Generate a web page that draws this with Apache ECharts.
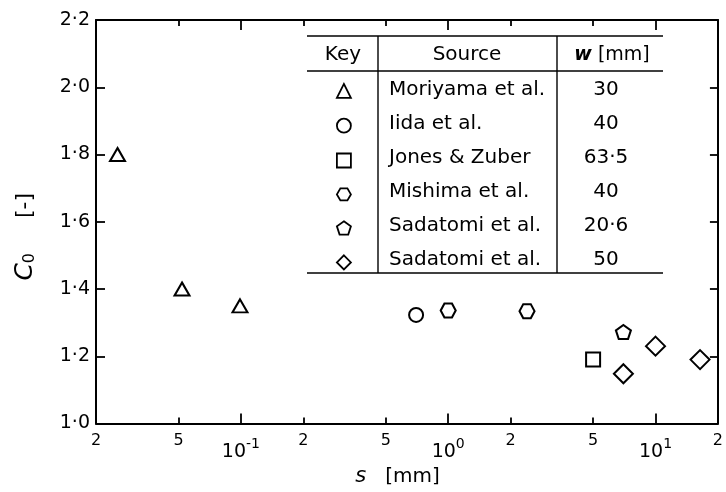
<!DOCTYPE html>
<html><head><meta charset="utf-8">
<script src="https://cdn.jsdelivr.net/npm/echarts@6/dist/echarts.min.js"></script>
<style>html,body{margin:0;padding:0;background:#fff}#c{width:726px;height:492px}</style>
</head><body><div id="c"></div>
<script>
// ---- data ----
const sources = ['Moriyama et al.', 'Iida et al.', 'Jones & Zuber', 'Mishima et al.', 'Sadatomi et al.', 'Sadatomi et al.'];
const widths = ['30', '40', '63·5', '40', '20·6', '50'];
const seriesNames = ['Moriyama 30', 'Iida 40', 'Jones 63.5', 'Mishima 40', 'Sadatomi 20.6', 'Sadatomi 50'];
const moriyama = [[0.0254, 1.80], [0.052, 1.40], [0.099, 1.35]];
const iida = [[0.70, 1.323]];
const jones = [[5.0, 1.19]];
const mishima = [[1.0, 1.336], [2.4, 1.334]];
const sadatomi206 = [[7.0, 1.272]];
const sadatomi50 = [[7.0, 1.148], [10.0, 1.23], [16.4, 1.19]];
const xMinorTicks = [0.02, 0.05, 0.2, 0.5, 2, 5, 20];
const xMinorLabels = ['2', '5', '2', '5', '2', '5', '2'];
const xMajorTicks = [0.1, 1, 10];
const xMajorExp = ['-1', '0', '1'];
const yTicks = [1.0, 1.2, 1.4, 1.6, 1.8, 2.0, 2.2];
const yTickLabels = ['1·0', '1·2', '1·4', '1·6', '1·8', '2·0', '2·2'];

// ---- style ----
const FONT = 'DejaVu Sans';
const BLACK = '#000';
const hexagon = 'path://M0,5 L2.887,0 L8.66,0 L11.547,5 L8.66,10 L2.887,10 Z';
const pentagon = 'path://M0,-1 L0.951,-0.309 L0.588,0.809 L-0.588,0.809 L-0.951,-0.309 Z';
const hollow = { color: '#fff', borderColor: BLACK, borderWidth: 2, opacity: 1 };

function idxOf(arr, v) {
  for (let i = 0; i < arr.length; i++) if (Math.abs(Math.log10(arr[i]) - Math.log10(v)) < 1e-6) return i;
  return -1;
}

const chart = echarts.init(document.getElementById('c'), null, { renderer: 'canvas' });

const xBase = { type: 'log', logBase: 10, min: 0.02, max: 20, gridIndex: 0, splitLine: { show: false } };
const lineStyle = { color: BLACK, width: 2 };
const tickStyle = { color: BLACK, width: 1.8 };

// Table layout
const tL = 307, tR = 663, tTop = 36, tHead = 71, tBot = 273, v1 = 378, v2 = 557;
const rowY0 = 90, rowH = 34;
const graphic = [];
function hline(y) { graphic.push({ type: 'line', shape: { x1: tL, y1: y, x2: tR, y2: y }, style: { stroke: BLACK, lineWidth: 1.6 }, silent: true }); }
function vline(x) { graphic.push({ type: 'line', shape: { x1: x, y1: tTop, x2: x, y2: tBot }, style: { stroke: BLACK, lineWidth: 1.4 }, silent: true }); }
hline(tTop); hline(tHead); hline(tBot); vline(v1); vline(v2);
function txt(t, x, y, align) {
  graphic.push({ type: 'text', x: x, y: y, silent: true,
    style: { text: t, fontFamily: FONT, fontSize: 20, fill: BLACK, align: align, verticalAlign: 'middle', textAlign: align, textVerticalAlign: 'middle' } });
}
txt('Key', 343, 55, 'center');
txt('Source', 467, 55, 'center');
graphic.push({ type: 'text', x: 612, y: 55, silent: true,
  style: { text: '{w|w} [mm]', fontFamily: FONT, fontSize: 19, fill: BLACK, align: 'center', verticalAlign: 'middle',
    rich: { w: { fontFamily: FONT, fontSize: 19, fontStyle: 'italic', fontWeight: 'bold', fill: BLACK } } } });
sources.forEach((s, i) => {
  txt(s, 389, rowY0 + i * rowH, 'left');
  txt(widths[i], 606, rowY0 + i * rowH, 'center');
});

const symbols = ['triangle', 'circle', 'rect', hexagon, pentagon, 'diamond'];
const sizes = [[15, 13], 14, 14, [15, 14], [15, 14], 19];
const datas = [moriyama, iida, jones, mishima, sadatomi206, sadatomi50];

const option = {
  backgroundColor: '#fff',
  animation: false,
  textStyle: { fontFamily: FONT, color: BLACK },
  grid: { left: 96, right: 3, top: 20, bottom: 67, containLabel: false },
  legend: {
    orient: 'vertical', left: 336, top: 83, padding: 0,
    itemWidth: 14, itemHeight: 14, itemGap: 19,
    selectedMode: false,
    formatter: () => '',
    textStyle: { fontSize: 6 },
    itemStyle: { color: '#fff', borderColor: BLACK, borderWidth: 1.8 },
    data: seriesNames
  },
  xAxis: [
    Object.assign({}, xBase, {
      position: 'bottom',
      axisLine: { show: true, lineStyle: lineStyle },
      axisTick: { show: true, inside: true, length: 6, customValues: xMinorTicks, lineStyle: tickStyle },
      axisLabel: { show: true, customValues: xMinorTicks, margin: 9, fontSize: 16, lineHeight: 16, color: BLACK, fontFamily: FONT,
        formatter: v => { const i = idxOf(xMinorTicks, v); return i >= 0 ? xMinorLabels[i] : ''; } },
      name: '{i|s}   [mm]', nameLocation: 'middle', nameGap: 43,
      nameTextStyle: { fontSize: 20, color: BLACK, fontFamily: FONT, lineHeight: 20, padding: [0, 19, 0, 0],
        rich: { i: { fontSize: 21, fontStyle: 'italic', fontFamily: FONT, color: BLACK } } }
    }),
    Object.assign({}, xBase, {
      position: 'bottom',
      axisLine: { show: false },
      axisTick: { show: true, inside: true, length: 10, customValues: xMajorTicks, lineStyle: tickStyle },
      axisLabel: { show: true, customValues: xMajorTicks, margin: 14, color: BLACK, fontFamily: FONT,
        formatter: v => { const i = idxOf(xMajorTicks, v); return i >= 0 ? '{b|10}{s|' + xMajorExp[i] + '}' : ''; },
        rich: { b: { fontSize: 19, lineHeight: 30, fontFamily: FONT, color: BLACK },
                s: { fontSize: 14, lineHeight: 14, verticalAlign: 'top', fontFamily: FONT, color: BLACK } } }
    }),
    Object.assign({}, xBase, {
      position: 'top',
      axisLine: { show: true, lineStyle: lineStyle },
      axisTick: { show: true, inside: true, length: 6, customValues: xMinorTicks, lineStyle: tickStyle },
      axisLabel: { show: false }
    }),
    Object.assign({}, xBase, {
      position: 'top',
      axisLine: { show: false },
      axisTick: { show: true, inside: true, length: 10, customValues: xMajorTicks, lineStyle: tickStyle },
      axisLabel: { show: false }
    })
  ],
  yAxis: [
    {
      type: 'value', position: 'left', min: 1.0, max: 2.2, interval: 0.2, splitLine: { show: false },
      axisLine: { show: true, lineStyle: lineStyle },
      axisTick: { show: true, inside: true, length: 9, lineStyle: tickStyle },
      axisLabel: { show: true, margin: 6, fontSize: 19, color: BLACK, fontFamily: FONT,
        formatter: v => { const i = Math.round((v - yTicks[0]) / 0.2); return yTickLabels[i] || ''; } },
      name: '{i|C}{sub|0}     [-]', nameLocation: 'middle', nameRotate: 90, nameGap: 58,
      nameTextStyle: { fontSize: 22, color: BLACK, fontFamily: FONT, padding: [0, 30, 0, 0],
        rich: { i: { fontSize: 25, fontStyle: 'italic', fontFamily: FONT, color: BLACK },
                sub: { fontSize: 16, verticalAlign: 'bottom', fontFamily: FONT, color: BLACK } } }
    },
    {
      type: 'value', position: 'right', min: 1.0, max: 2.2, interval: 0.2, splitLine: { show: false },
      axisLine: { show: true, lineStyle: lineStyle },
      axisTick: { show: true, inside: true, length: 8, lineStyle: tickStyle },
      axisLabel: { show: false }
    }
  ],
  graphic: graphic,
  series: seriesNames.map((n, i) => ({
    name: n, type: 'scatter', xAxisIndex: 0, yAxisIndex: 0,
    symbol: symbols[i], symbolSize: sizes[i],
    itemStyle: hollow, data: datas[i], z: 5
  }))
};
chart.setOption(option);
</script>
</body></html>
